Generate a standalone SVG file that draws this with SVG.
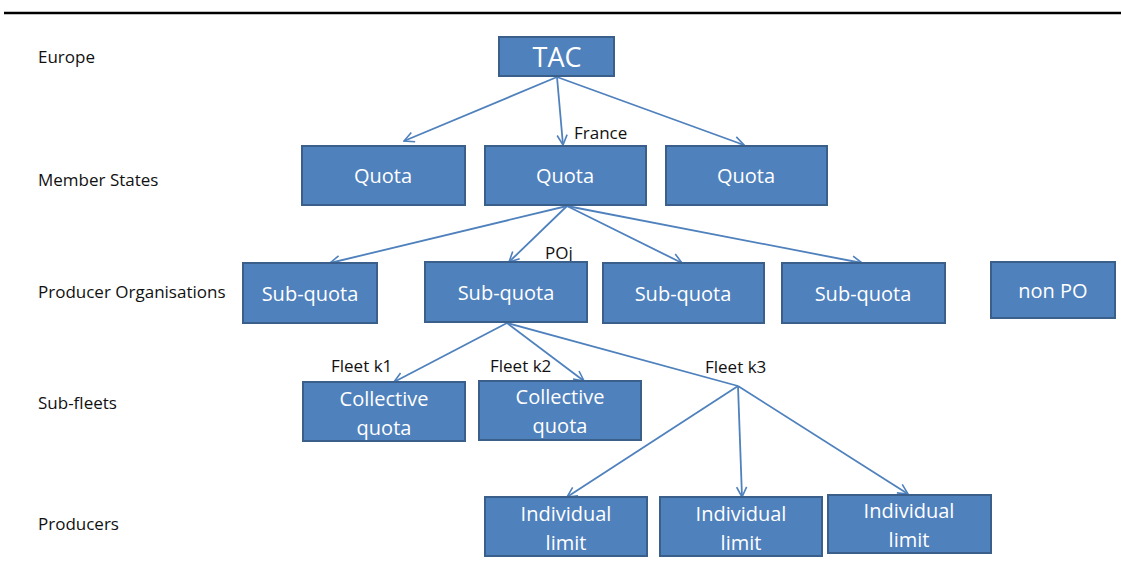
<svg xmlns="http://www.w3.org/2000/svg" width="1121" height="580" viewBox="0 0 1121 580">
<defs>
<marker id="arr" viewBox="0 0 12 12" refX="11" refY="6" markerWidth="12" markerHeight="12" markerUnits="userSpaceOnUse" orient="auto">
<polyline points="1,1 11,6 1,11" fill="none" stroke="#4F81BD" stroke-width="1.6"/>
</marker>
</defs>
<style>
.box{fill:#4F81BD;stroke:#3A5F8B;stroke-width:2}
.bt{font-family:"Open Sans","Liberation Sans",Arial,sans-serif;font-size:20px;fill:#FFFFFF;text-anchor:middle}
.lbl{font-family:"Open Sans","Liberation Sans",Arial,sans-serif;font-size:17px;fill:#111111}
.con{stroke:#4F81BD;stroke-width:1.8;fill:none}
</style>
<rect x="0" y="0" width="1121" height="580" fill="#FFFFFF"/>
<line x1="4" y1="13" x2="1121" y2="13" stroke="#000000" stroke-width="2.5"/>

<g id="levels">
<text class="lbl" x="38" y="63">Europe</text>
<text class="lbl" x="38" y="186">Member States</text>
<text class="lbl" x="38" y="298">Producer Organisations</text>
<text class="lbl" x="38" y="409">Sub-fleets</text>
<text class="lbl" x="38" y="530">Producers</text>
</g>

<g id="connectors">
<line class="con" x1="557" y1="77" x2="404" y2="141" marker-end="url(#arr)"/>
<line class="con" x1="557" y1="77" x2="563" y2="145" marker-end="url(#arr)"/>
<line class="con" x1="557" y1="77" x2="744" y2="145" marker-end="url(#arr)"/>
<line class="con" x1="567" y1="206" x2="330" y2="263" marker-end="url(#arr)"/>
<line class="con" x1="567" y1="206" x2="509" y2="262" marker-end="url(#arr)"/>
<line class="con" x1="567" y1="206" x2="682" y2="263" marker-end="url(#arr)"/>
<line class="con" x1="567" y1="206" x2="862" y2="263" marker-end="url(#arr)"/>
<line class="con" x1="507" y1="323" x2="394" y2="382" marker-end="url(#arr)"/>
<line class="con" x1="507" y1="323" x2="584" y2="381" marker-end="url(#arr)"/>
<line class="con" x1="507" y1="323" x2="738" y2="386"/>
<line class="con" x1="738" y1="386" x2="567" y2="497" marker-end="url(#arr)"/>
<line class="con" x1="738" y1="386" x2="742" y2="497" marker-end="url(#arr)"/>
<line class="con" x1="738" y1="386" x2="908" y2="494" marker-end="url(#arr)"/>
</g>

<g id="edge-labels">
<text class="lbl" x="574" y="139">France</text>
<text class="lbl" x="545" y="259">POj</text>
<text class="lbl" x="331" y="372">Fleet k1</text>
<text class="lbl" x="490" y="372">Fleet k2</text>
<text class="lbl" x="705" y="373">Fleet k3</text>
</g>

<g id="tac"><rect class="box" x="499" y="37" width="115" height="39"/><text class="bt" x="557" y="67" style="font-size:27px">TAC</text></g>

<g id="quota1"><rect class="box" x="302" y="146" width="163" height="59"/><text class="bt" x="383" y="183">Quota</text></g>
<g id="quota2"><rect class="box" x="485" y="146" width="161" height="59"/><text class="bt" x="565" y="183">Quota</text></g>
<g id="quota3"><rect class="box" x="666" y="146" width="161" height="59"/><text class="bt" x="746" y="183">Quota</text></g>

<g id="subquota1"><rect class="box" x="243" y="263" width="134" height="60"/><text class="bt" x="310" y="301">Sub-quota</text></g>
<g id="subquota2"><rect class="box" x="425" y="262" width="162" height="60"/><text class="bt" x="506" y="300">Sub-quota</text></g>
<g id="subquota3"><rect class="box" x="603" y="263" width="161" height="60"/><text class="bt" x="683" y="301">Sub-quota</text></g>
<g id="subquota4"><rect class="box" x="782" y="263" width="163" height="60"/><text class="bt" x="863" y="301">Sub-quota</text></g>
<g id="nonpo"><rect class="box" x="991" y="262" width="124" height="56"/><text class="bt" x="1053" y="298">non PO</text></g>

<g id="collective1"><rect class="box" x="303" y="382" width="162" height="59"/><text class="bt" x="384" y="406">Collective</text><text class="bt" x="384" y="435">quota</text></g>
<g id="collective2"><rect class="box" x="479" y="381" width="162" height="59"/><text class="bt" x="560" y="404">Collective</text><text class="bt" x="560" y="433">quota</text></g>

<g id="individual1"><rect class="box" x="485" y="497" width="162" height="59"/><text class="bt" x="566" y="521">Individual</text><text class="bt" x="566" y="550">limit</text></g>
<g id="individual2"><rect class="box" x="660" y="497" width="162" height="59"/><text class="bt" x="741" y="521">Individual</text><text class="bt" x="741" y="550">limit</text></g>
<g id="individual3"><rect class="box" x="828" y="495" width="163" height="58"/><text class="bt" x="909" y="518">Individual</text><text class="bt" x="909" y="547">limit</text></g>
</svg>
